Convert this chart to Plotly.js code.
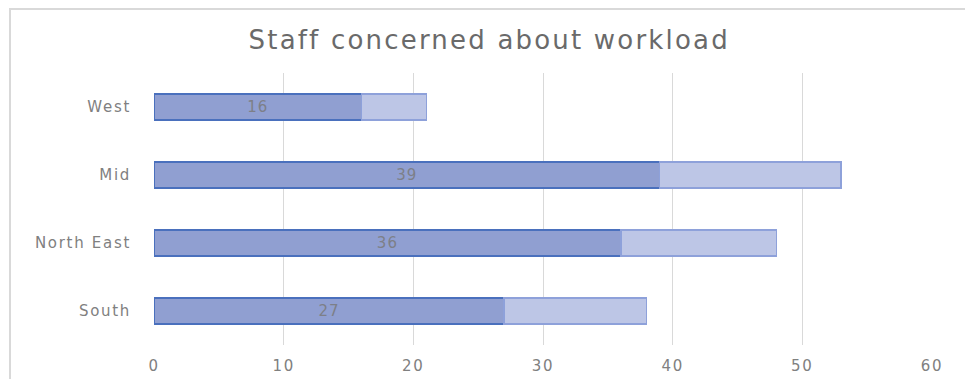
<!DOCTYPE html>
<html>
<head>
<meta charset="utf-8">
<script src="https://cdn.plot.ly/plotly-3.0.1.min.js"></script>
<style>
html,body{margin:0;padding:0;background:#fff;overflow:hidden;}
#frame{position:absolute;left:9px;top:8px;width:980px;height:400px;border:2px solid #d9d9d9;box-sizing:border-box;pointer-events:none;z-index:5;}
#chart{position:absolute;left:0;top:0;width:965px;height:379px;}
#chart .gtitle{letter-spacing:2.2px;}
#chart .xtick text, #chart .ytick text{letter-spacing:1.7px;}
#chart .bartext{letter-spacing:1px;}
</style>
</head>
<body>
<div id="chart"></div>
<div id="frame"></div>
<script>
const categories = ["South", "North East", "Mid", "West"];
const concerned = [27, 36, 39, 16];
const remainder = [11, 12, 14, 5];
const xTicks = [0, 10, 20, 30, 40, 50, 60];
const chartTitle = "Staff concerned about workload";

const traces = [
  {
    type: "bar", orientation: "h", y: categories, x: concerned,
    text: concerned.map(String), textposition: "inside", insidetextanchor: "middle", textangle: 0,
    textfont: {family: "DejaVu Sans, sans-serif", size: 15, color: "#7d7f88"},
    marker: {color: "#909fd1", line: {color: "#4a70bd", width: 1.5}},
    hoverinfo: "skip"
  },
  {
    type: "bar", orientation: "h", y: categories, x: remainder,
    textposition: "none",
    marker: {color: "#bdc6e6", line: {color: "#8ea1da", width: 1.5}},
    hoverinfo: "skip"
  }
];

const layout = {
  width: 965, height: 379,
  margin: {l: 154, r: 33, t: 73, b: 34},
  barmode: "stack", bargap: 0.62,
  showlegend: false,
  paper_bgcolor: "#ffffff", plot_bgcolor: "#ffffff",
  title: {
    text: chartTitle, x: 0.507, xanchor: "center", y: 0.895, yanchor: "middle",
    font: {family: "DejaVu Sans, sans-serif", size: 26, color: "#6a6a6a"}
  },
  xaxis: {
    range: [0, 60], tickvals: xTicks, ticktext: xTicks.map(String),
    showgrid: true, gridcolor: "#d9d9d9", gridwidth: 1,
    zeroline: false, showline: false, ticks: "",
    tickfont: {family: "DejaVu Sans, sans-serif", size: 15, color: "#808080"},
    ticklabelstandoff: 10, fixedrange: true
  },
  yaxis: {
    categoryorder: "array", categoryarray: categories,
    showgrid: false, zeroline: false, showline: false, ticks: "",
    tickfont: {family: "DejaVu Sans, sans-serif", size: 15, color: "#808080"},
    ticklabelstandoff: 22, fixedrange: true
  }
};

Plotly.newPlot("chart", traces, layout, {displayModeBar: false, staticPlot: true});
</script>
</body>
</html>
